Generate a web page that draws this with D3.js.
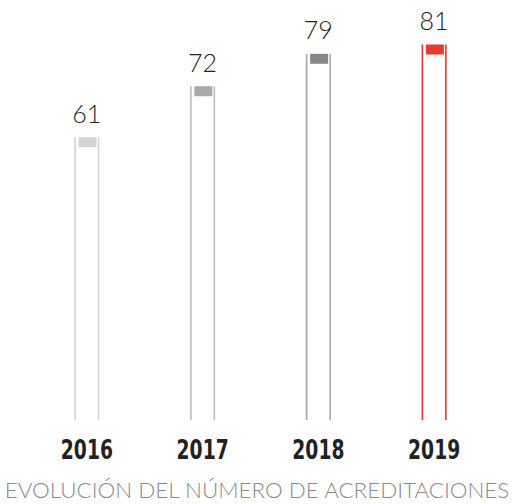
<!DOCTYPE html>
<html>
<head>
<meta charset="utf-8">
<script src="https://cdn.jsdelivr.net/npm/d3@7"></script>
<style>
  html, body { margin: 0; padding: 0; background: #fff; }
  svg { display: block; }
</style>
</head>
<body>
<svg id="chart" width="514" height="504"></svg>
<script>
const years = ["2016", "2017", "2018", "2019"];
const values = [61, 72, 79, 81];
const lineColors = ["#d2d2d2", "#bcbcbc", "#a8a8a8", "#e8372c"];
const boxColors = ["#d4d4d4", "#a9a9a9", "#878787", "#e8392e"];
const title = "EVOLUCIÓN DEL NÚMERO DE ACREDITACIONES";

const svg = d3.select("#chart");
const x = d3.scaleBand().domain(years).range([29, 492]).paddingInner(0.78).paddingOuter(0.39);
const y = d3.scaleLinear().domain([0, 81]).range([420, 44.5]);

const data = years.map((yr, i) => ({ yr, v: values[i], lc: lineColors[i], bc: boxColors[i] }));

const g = svg.append("g");
const bars = g.selectAll("g.bar").data(data).join("g").attr("class", "bar");

bars.append("line")
  .attr("x1", d => x(d.yr) + 1).attr("x2", d => x(d.yr) + 1)
  .attr("y1", d => y(d.v)).attr("y2", y(0))
  .attr("stroke", d => d.lc).attr("stroke-width", 1.6);
bars.append("line")
  .attr("x1", d => x(d.yr) + x.bandwidth() - 1).attr("x2", d => x(d.yr) + x.bandwidth() - 1)
  .attr("y1", d => y(d.v)).attr("y2", y(0))
  .attr("stroke", d => d.lc).attr("stroke-width", 1.6);
bars.append("rect")
  .attr("x", d => x(d.yr) + 4.5)
  .attr("width", x.bandwidth() - 7.5)
  .attr("y", d => y(d.v))
  .attr("height", 10)
  .attr("fill", d => d.bc);

bars.append("text")
  .attr("x", d => x(d.yr) + x.bandwidth() / 2)
  .attr("y", d => y(d.v) - 14.5)
  .attr("text-anchor", "middle")
  .attr("font-family", "Lato, 'Open Sans', sans-serif")
  .attr("font-weight", 300)
  .attr("font-size", 25)
  .attr("fill", "#222")
  .text(d => d.v);

// x axis labels (years)
const xAxis = d3.axisBottom(x).tickSize(0).tickPadding(0);
const ax = svg.append("g").attr("transform", "translate(0,440)").call(xAxis);
ax.select(".domain").remove();
ax.selectAll("text")
  .attr("dy", 0).attr("y", 19)
  .attr("transform", "scale(0.8,1)")
  .attr("font-family", "'Liberation Sans Narrow', 'DejaVu Sans Condensed', sans-serif")
  .attr("font-weight", 700)
  .attr("font-size", 26)
  .attr("fill", "#222");

svg.append("text")
  .attr("x", 257).attr("y", 498)
  .attr("text-anchor", "middle")
  .attr("font-family", "Lato, 'Open Sans', sans-serif")
  .attr("font-weight", 300)
  .attr("font-size", 22.4)
  .attr("fill", "#8a8a8a")
  .text(title);
</script>
</body>
</html>
